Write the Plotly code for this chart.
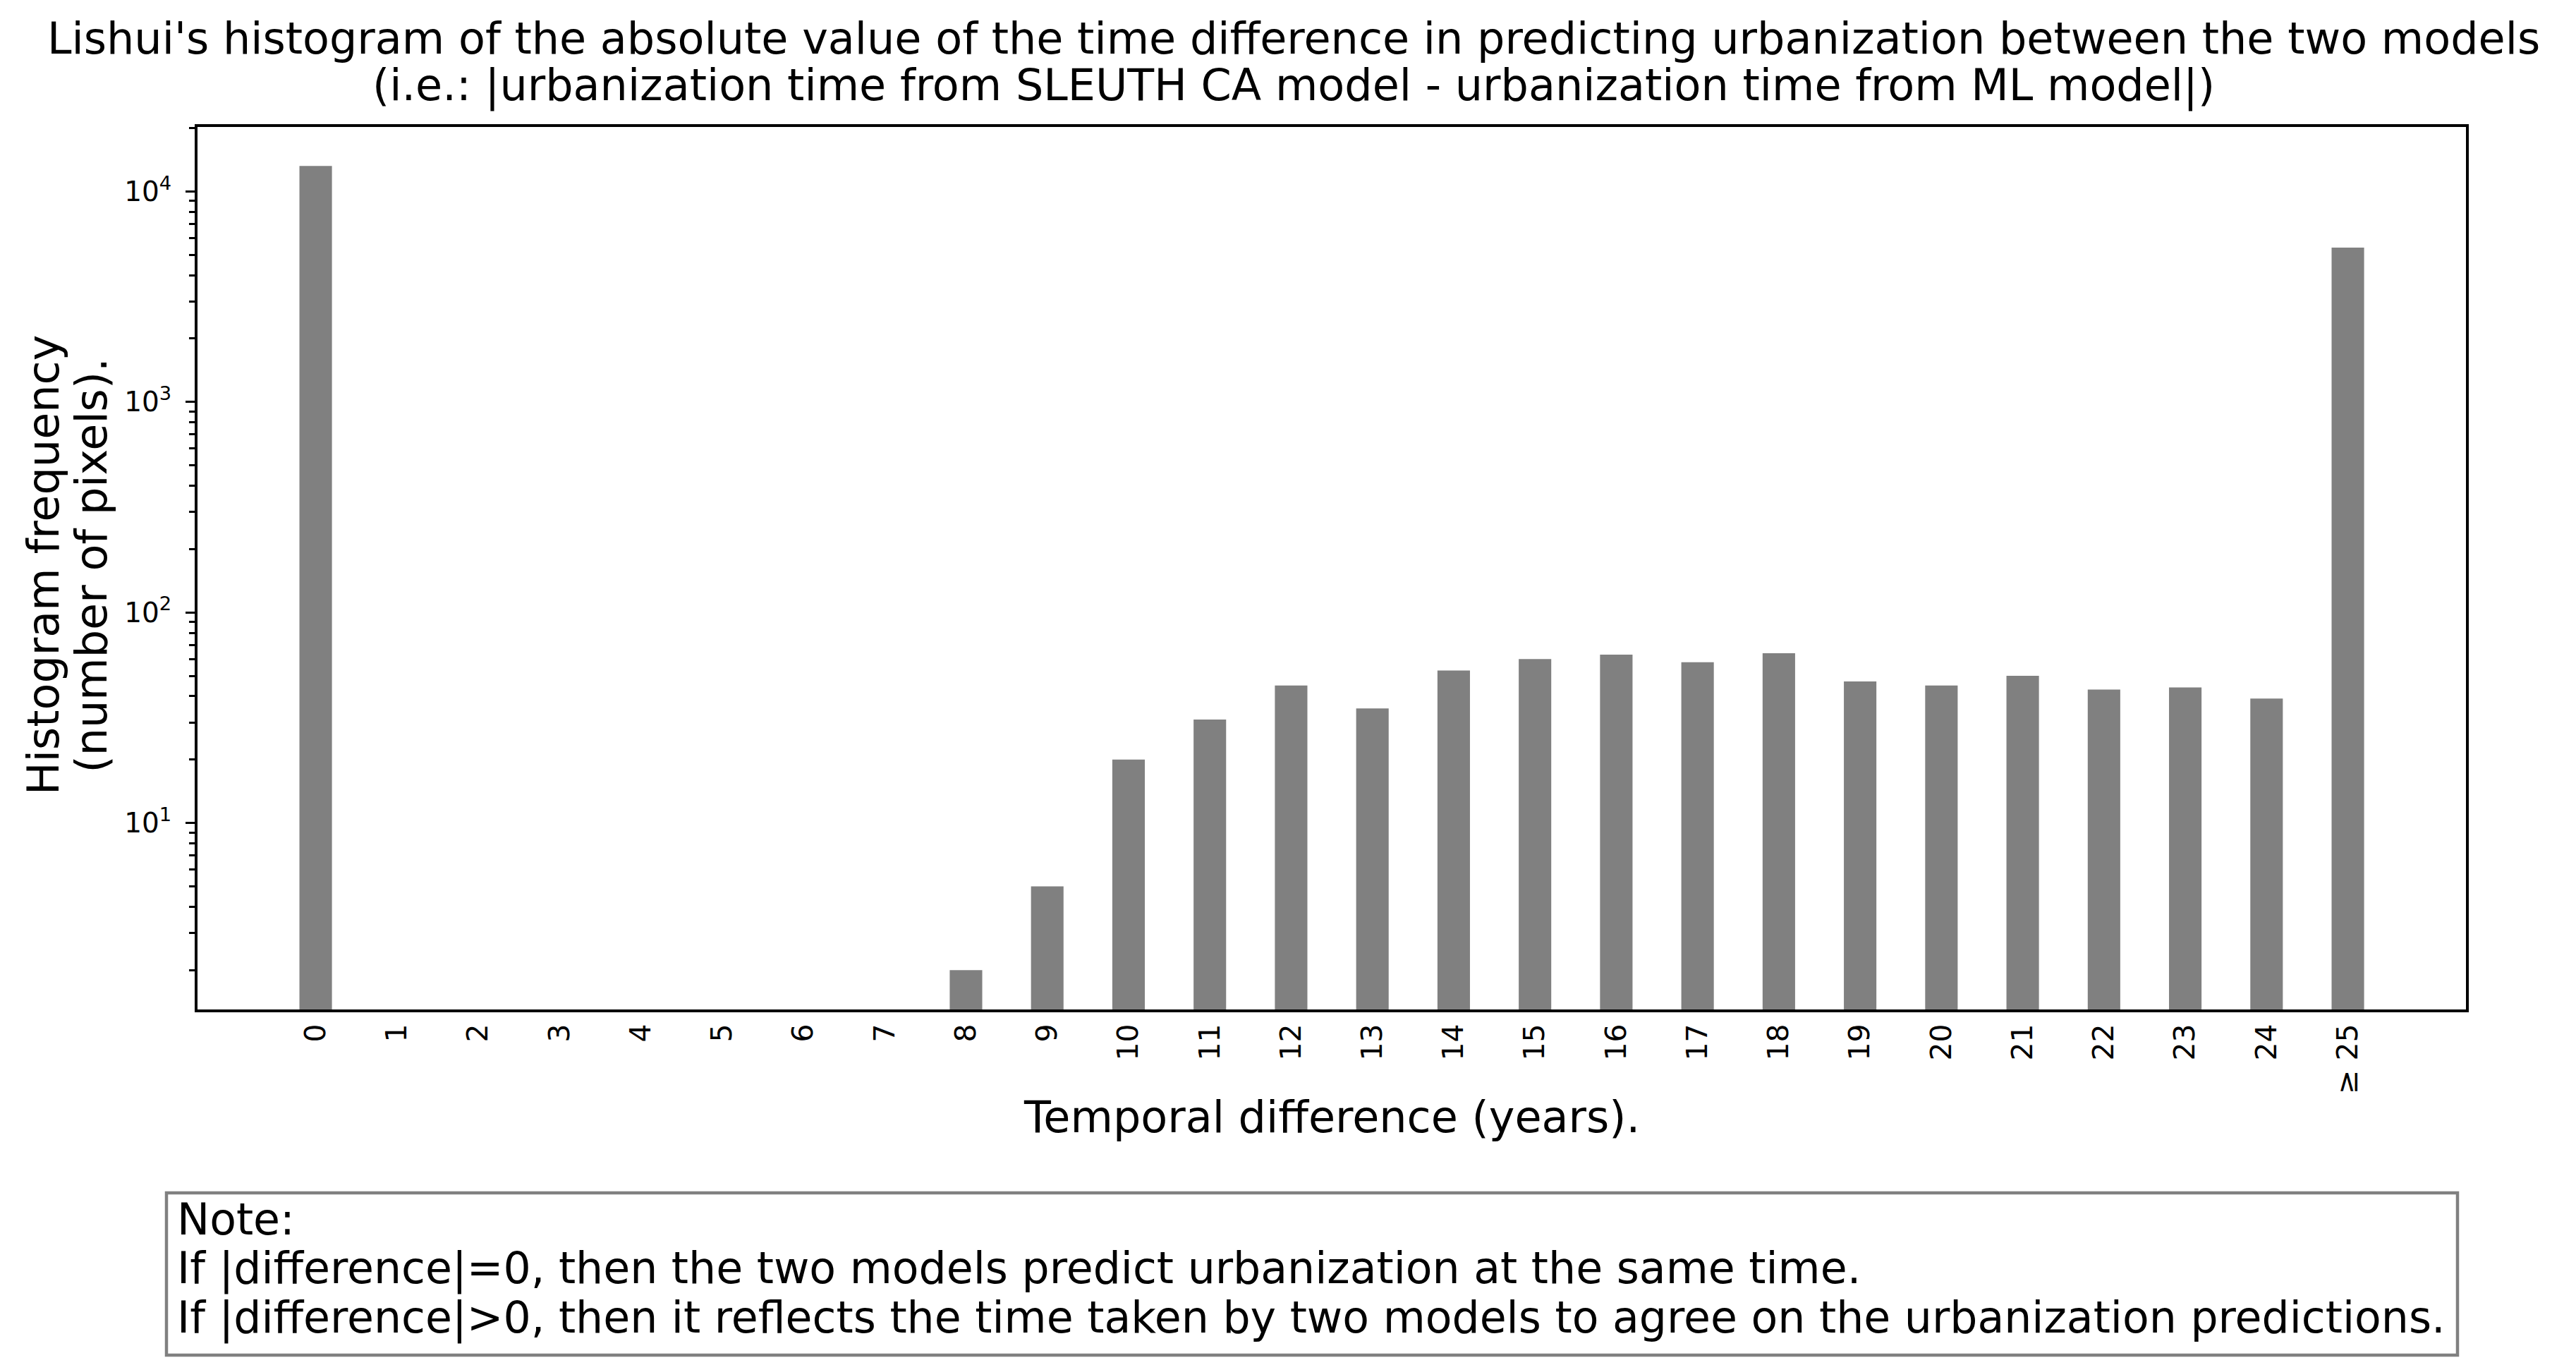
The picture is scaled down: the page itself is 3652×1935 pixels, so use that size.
import plotly.graph_objects as go

# histogram data
diff_years = list(range(26))
tick_labels = [str(i) for i in range(25)] + ["≥ 25"]
pixel_counts = [13200, 0, 0, 0, 0, 0, 0, 0, 2, 5, 20, 31, 45, 35, 53, 60,
                63, 58, 64, 47, 45, 50, 43, 44, 39, 5410]

y_tickvals = [10, 100, 1000, 10000]
y_ticktext = ["10<sup>1</sup>", "10<sup>2</sup>", "10<sup>3</sup>", "10<sup>4</sup>"]

title_lines = [
    "Lishui's histogram of the absolute value of the time difference in predicting urbanization between the two models",
    "(i.e.: |urbanization time from SLEUTH CA model - urbanization time from ML model|)",
]
ylabel_lines = ["Histogram frequency", "(number of pixels)."]
note_lines = [
    "Note:",
    "If |difference|=0, then the two models predict urbanization at the same time.",
    "If |difference|>0, then it reflects the time taken by two models to agree on the urbanization predictions.",
]

FONT = "DejaVu Sans"
BIG = 62

fig = go.Figure(go.Bar(x=diff_years, y=pixel_counts, width=0.4,
                       marker=dict(color="#808080", line=dict(width=0))))

fig.update_layout(
    width=3652, height=1935,
    margin=dict(l=272, r=164, t=172, b=512),
    plot_bgcolor="white", paper_bgcolor="white",
    font=dict(family=FONT, color="black"),
    showlegend=False,
)
fig.update_xaxes(
    range=[-1.454, 26.453], tickvals=diff_years, ticktext=tick_labels,
    tickangle=-90, tickfont=dict(size=41), ticks="", ticklabelstandoff=0,
    showline=True, linewidth=4, linecolor="black", mirror=True, showgrid=False, zeroline=False,
)
fig.update_yaxes(
    type="log", range=[0.114, 4.306], tickvals=y_tickvals, ticktext=y_ticktext,
    tickfont=dict(size=39), ticks="outside", ticklen=13, tickwidth=3, tickcolor="black",
    ticklabelstandoff=12,
    minor=dict(ticks="outside", ticklen=8, tickwidth=2.5, tickcolor="black", dtick="D1", showgrid=False),
    showline=True, linewidth=4, linecolor="black", mirror=True, showgrid=False, zeroline=False,
)

ann = []
# title (centred on the whole figure)
for txt, yp in zip(title_lines, [1.1007, 1.0472]):
    ann.append(dict(text=txt, x=0.48321, y=yp, xref="paper", yref="paper", xanchor="center",
                    yanchor="middle", showarrow=False, font=dict(size=BIG)))
# y label
for txt, xp in zip(ylabel_lines, [-0.0678, -0.0465]):
    ann.append(dict(text=txt, x=xp, y=0.5036, xref="paper", yref="paper", xanchor="center",
                    yanchor="middle", textangle=-90, showarrow=False, font=dict(size=BIG)))
# x label
ann.append(dict(text="Temporal difference (years).", x=0.5, y=-0.1223, xref="paper", yref="paper",
                xanchor="center", yanchor="middle", showarrow=False, font=dict(size=BIG)))
# note box text
for txt, yp in zip(note_lines, [-0.2380, -0.2940, -0.3499]):
    ann.append(dict(text=txt, x=-0.00964, y=yp, xref="paper", yref="paper", xanchor="left",
                    yanchor="middle", showarrow=False, font=dict(size=61.7)))
fig.update_layout(annotations=ann)

fig.add_shape(type="rect", xref="paper", yref="paper", x0=-0.01368, x1=0.99627, y0=-0.3917, y1=-0.2078,
              line=dict(color="#808080", width=4.5), fillcolor="white", layer="below")

fig.write_html("out.html")
